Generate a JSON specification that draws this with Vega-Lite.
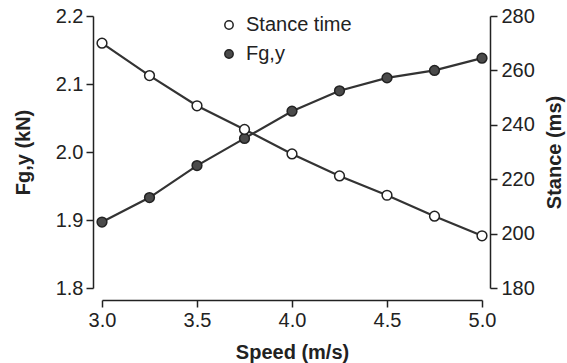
{
  "$schema": "https://vega.github.io/schema/vega-lite/v6.json",
  "width": 380,
  "height": 272,
  "autosize": {"type": "none"},
  "padding": {"left": 102, "top": 16, "right": 85, "bottom": 75},
  "background": "white",
  "config": {
    "font": "Liberation Sans",
    "view": {"stroke": null},
    "axis": {
      "grid": false,
      "labelFlush": false,
      "labelOverlap": false,
      "domainColor": "#222",
      "tickColor": "#222",
      "labelColor": "#222",
      "titleColor": "#222",
      "labelFontSize": 20,
      "titleFontSize": 20,
      "titleFontWeight": "bold",
      "labelFont": "Liberation Sans",
      "titleFont": "Liberation Sans",
      "domainWidth": 1.5,
      "tickWidth": 1.5,
      "tickSize": 7
    },
    "legend": {"labelFont": "Liberation Sans", "labelFontSize": 20, "labelColor": "#222"}
  },
  "data": {
    "values": [
      {"speed": 3.0, "series": "Fg,y", "value": 1.897},
      {"speed": 3.25, "series": "Fg,y", "value": 1.933},
      {"speed": 3.5, "series": "Fg,y", "value": 1.980},
      {"speed": 3.75, "series": "Fg,y", "value": 2.020},
      {"speed": 4.0, "series": "Fg,y", "value": 2.060},
      {"speed": 4.25, "series": "Fg,y", "value": 2.090},
      {"speed": 4.5, "series": "Fg,y", "value": 2.109},
      {"speed": 4.75, "series": "Fg,y", "value": 2.120},
      {"speed": 5.0, "series": "Fg,y", "value": 2.138},
      {"speed": 3.0, "series": "Stance time", "value": 270.0},
      {"speed": 3.25, "series": "Stance time", "value": 258.1},
      {"speed": 3.5, "series": "Stance time", "value": 247.0},
      {"speed": 3.75, "series": "Stance time", "value": 238.3},
      {"speed": 4.0, "series": "Stance time", "value": 229.3},
      {"speed": 4.25, "series": "Stance time", "value": 221.2},
      {"speed": 4.5, "series": "Stance time", "value": 214.1},
      {"speed": 4.75, "series": "Stance time", "value": 206.4},
      {"speed": 5.0, "series": "Stance time", "value": 199.2}
    ]
  },
  "layer": [
    {
      "transform": [{"filter": "datum.series === 'Fg,y'"}],
      "encoding": {
        "x": {
          "field": "speed", "type": "quantitative",
          "scale": {"domain": [3, 5], "nice": false, "zero": false},
          "axis": {"values": [3, 3.5, 4, 4.5, 5], "format": ".1f", "offset": 12, "title": "Speed (m/s)", "labelPadding": 3, "titlePadding": 12}
        },
        "y": {
          "field": "value", "type": "quantitative",
          "scale": {"domain": [1.8, 2.2], "nice": false, "zero": false},
          "axis": {"orient": "left", "values": [1.8, 1.9, 2.0, 2.1, 2.2], "format": ".1f", "offset": 9, "title": "Fg,y (kN)", "labelPadding": 3, "titlePadding": 22}
        }
      },
      "layer": [
        {"mark": {"type": "line", "color": "#333", "strokeWidth": 2.2}},
        {
          "mark": {"type": "circle", "size": 95, "stroke": "#222", "strokeWidth": 1.5, "opacity": 1},
          "encoding": {
            "fill": {
              "field": "series", "type": "nominal",
              "scale": {"domain": ["Stance time", "Fg,y"], "range": ["white", "#4a4a4a"]},
              "legend": {"orient": "none", "legendX": 117, "legendY": -1, "title": null, "symbolType": "circle", "symbolSize": 70, "symbolStrokeColor": "#222", "symbolStrokeWidth": 1.5, "rowPadding": 9, "labelOffset": 7, "padding": 0}
            }
          }
        }
      ]
    },
    {
      "transform": [{"filter": "datum.series === 'Stance time'"}],
      "encoding": {
        "x": {"field": "speed", "type": "quantitative", "scale": {"domain": [3, 5], "nice": false, "zero": false}},
        "y": {
          "field": "value", "type": "quantitative",
          "scale": {"domain": [180, 280], "nice": false, "zero": false},
          "axis": {"orient": "right", "values": [180, 200, 220, 240, 260, 280], "offset": 8, "title": "Stance (ms)", "titleAngle": 270, "titleBaseline": "top", "labelPadding": 4, "titlePadding": 10}
        }
      },
      "layer": [
        {"mark": {"type": "line", "color": "#333", "strokeWidth": 2.2}},
        {
          "mark": {"type": "circle", "size": 95, "stroke": "#222", "strokeWidth": 1.5, "opacity": 1},
          "encoding": {
            "fill": {"field": "series", "type": "nominal"}
          }
        }
      ]
    }
  ],
  "resolve": {"scale": {"y": "independent"}}
}
